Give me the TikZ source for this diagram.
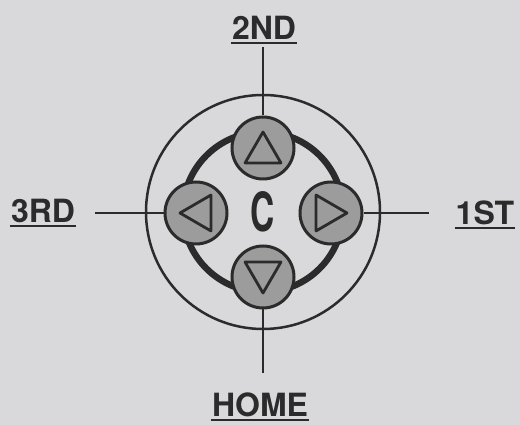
\documentclass[tikz,border=0pt]{standalone}
\usepackage{fontspec}
\setmainfont{TeX Gyre Heros}
\definecolor{bg}{HTML}{D9D9DB}
\definecolor{ink}{HTML}{2B2B2B}
\definecolor{btn}{HTML}{9C9C9C}
\begin{document}
\begin{tikzpicture}[x=1pt,y=1pt,
  lbl/.style={font=\bfseries\fontsize{32}{32}\selectfont, text=ink, inner sep=0pt, text depth=0pt},
  btnode/.style={circle, draw=ink, line width=3pt, fill=btn, minimum size=62pt, inner sep=0pt},
  conn/.style={draw=ink, line width=2.2pt},
  uline/.style={draw=ink, line width=2pt},
  tri/.style={draw=ink, line width=2.8pt, line join=round, fill=btn}]
\fill[bg] (0,0) rectangle (520,425);
\useasboundingbox (0,0) rectangle (520,425);
% outer ring and inner thick ring
\node[circle, draw=ink, line width=2.5pt, minimum size=234pt, inner sep=0pt] (outer) at (263,213) {};
\draw[ink, line width=6.5pt] (outer.center) circle[radius=80];
% buttons
\node[btnode] (up) at (263,277) {};
\node[btnode] (down) at (263,148) {};
\node[btnode] (left) at (196,212) {};
\node[btnode] (right) at (331,212) {};
% arrows in buttons
\draw[tri] ([shift={(0,16)}]up.center) -- ++(-18,-31) -- ++(36,0) -- cycle;
\draw[tri] ([shift={(0,-16)}]down.center) -- ++(-18,31) -- ++(36,0) -- cycle;
\draw[tri] ([shift={(-16,0)}]left.center) -- ++(31,18) -- ++(0,-36) -- cycle;
\draw[tri] ([shift={(16,0)}]right.center) -- ++(-31,18) -- ++(0,-36) -- cycle;
% centre letter
\node[font=\bfseries\fontsize{54}{54}\selectfont, text=ink, inner sep=0pt] (c) at (outer.center) {\scalebox{0.62}[1]{C}};
% labels
\node[lbl, anchor=south] (l2) at (264,385) {2ND};
\node[lbl, anchor=south] (l3) at (43,202) {3RD};
\node[lbl, anchor=south] (l1) at (485,200) {1ST};
\node[lbl, anchor=south] (lh) at (260,8) {HOME};
\foreach \n in {l2,l3,l1,lh}
  \draw[uline] ([shift={(-1,-3)}]\n.south west) -- ([shift={(1,-3)}]\n.south east);
% connectors
\draw[conn] ([yshift=-7pt]l2.south -| up) -- (up);
\draw[conn, shorten <=20pt] (l3.east |- left) -- (left);
\draw[conn, shorten <=27pt] (l1.west |- right) -- (right);
\draw[conn] ([yshift=20pt]lh.north -| down) -- (down);
\end{tikzpicture}
\end{document}
